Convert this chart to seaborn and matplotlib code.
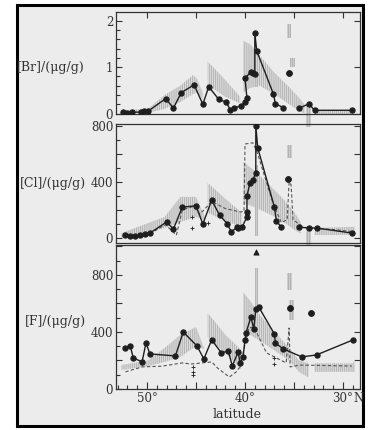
import numpy as np
import pandas as pd
import seaborn as sns
import matplotlib
matplotlib.use("Agg")
import matplotlib.pyplot as plt
from matplotlib.patches import Rectangle
from matplotlib.ticker import MultipleLocator, FixedLocator, FuncFormatter

# ---------------- data ----------------
# [Br] solid line with dots (two connected pieces)
br_lat_1 = [52.4, 52.0, 51.5, 50.6, 50.3, 49.9, 48.1, 47.3, 46.5, 45.2, 44.3, 43.7, 42.7, 41.9,
            41.5, 41.1, 40.4, 40.0, 39.8, 40.0, 39.4, 39.2, 39.0, 39.0, 38.8, 37.1, 36.9, 36.1]
br_val_1 = [0.03, 0.02, 0.03, 0.03, 0.05, 0.05, 0.32, 0.12, 0.45, 0.62, 0.20, 0.58, 0.31, 0.24,
            0.08, 0.12, 0.17, 0.24, 0.33, 0.76, 0.90, 0.88, 0.85, 1.73, 1.35, 0.42, 0.21, 0.13]
br_lat_2 = [34.5, 33.5, 32.9, 29.1]
br_val_2 = [0.11, 0.21, 0.07, 0.07]
br_iso_lat = [35.5]
br_iso_val = [0.87]

# [Br] shaded ranges
br_a_lat = [52.6, 49.9, 48.2, 46.6, 45.3, 44.9, 44.3]
br_a_lo = [0.00, 0.02, 0.10, 0.25, 0.42, 0.45, 0.30]
br_a_hi = [0.07, 0.10, 0.40, 0.60, 0.83, 0.75, 0.45]
br_b_lat = [43.8, 42.0, 40.5]
br_b_lo = [0.62, 0.36, 0.22]
br_b_hi = [1.12, 0.72, 0.36]
br_c_lat = [40.2, 39.5, 38.5, 37.0, 35.5, 34.4, 33.9]
br_c_lo = [0.45, 0.55, 0.60, 0.42, 0.20, 0.05, 0.00]
br_c_hi = [1.57, 1.50, 1.25, 0.88, 0.57, 0.32, 0.18]
br_d_lat = [32.9, 28.8]
br_d_lo = [0.00, 0.00]
br_d_hi = [0.08, 0.08]

# [Cl] solid line with dots
cl_lat_1 = [52.2, 51.7, 51.2, 50.7, 50.2, 49.7, 48.0, 47.3, 46.4, 45.0, 44.3, 43.4, 42.6, 41.8,
            41.4, 40.8, 40.7, 40.3, 39.8, 39.8, 39.8, 39.5, 39.2, 38.9, 38.9, 38.7, 37.0, 36.8, 36.3]
cl_val_1 = [21, 14, 14, 21, 28, 35, 114, 64, 220, 230, 100, 270, 164, 100,
            43, 78, 71, 78, 150, 186, 300, 393, 414, 464, 800, 643, 221, 121, 78]
cl_lat_2 = [34.5, 33.5, 32.7, 29.1]
cl_val_2 = [78, 71, 71, 35]
cl_iso_lat = [35.6]
cl_iso_val = [420]
# [Cl] dashed line
cld_lat = [52.5, 50.0, 48.1, 47.0, 46.4, 45.3, 44.6, 43.4, 42.0, 40.5, 40.1, 40.0, 39.2,
           38.7, 37.2, 36.3, 35.7, 35.5, 35.3, 35.1, 34.0, 31.0, 29.0]
cld_val = [12, 18, 95, 20, 200, 225, 170, 260, 210, 186, 190, 671, 680,
           600, 260, 110, 130, 400, 380, 130, 75, 60, 45]
cl_plus_lat = [45.4, 45.4, 43.8]
cl_plus_val = [150, 70, 107]

cl_a_lat = [52.6, 48.2, 46.6, 45.0, 44.1]
cl_a_lo = [0, 71, 114, 150, 130]
cl_a_hi = [35, 150, 293, 293, 150]
cl_b_lat = [43.8, 42.0, 40.3]
cl_b_lo = [180, 120, 78]
cl_b_hi = [393, 280, 178]
cl_c_lat = [40.2, 39.0, 37.5, 36.0, 35.0, 34.3]
cl_c_lo = [250, 220, 170, 110, 60, 30]
cl_c_hi = [543, 480, 378, 271, 186, 110]
cl_d_lat = [32.9, 28.8]
cl_d_lo = [21, 21]
cl_d_hi = [71, 80]

# [F] solid line with dots
f_lat = [52.2, 51.7, 51.4, 50.5, 50.1, 49.7, 47.1, 46.3, 44.9, 44.2, 43.4, 42.4, 41.7, 41.3,
         40.7, 40.5, 40.2, 40.0, 39.9, 39.4, 39.1, 38.9, 38.6, 37.0, 36.9, 36.1, 34.2, 32.7, 29.0]
f_val = [288, 302, 218, 190, 323, 246, 232, 400, 302, 211, 344, 253, 267, 161,
         260, 183, 225, 344, 393, 505, 421, 561, 575, 386, 323, 281, 225, 239, 344]
f_iso_lat = [35.4, 33.3]
f_iso_val = [568, 533]
f_tri_lat = [38.9]
f_tri_val = [962]
# [F] dashed line
fd_lat = [52.2, 50.5, 48.5, 46.4, 45.5, 43.4, 42.8, 41.6, 40.9, 40.5, 39.9, 39.6, 39.1,
          38.6, 37.8, 36.8, 35.8, 35.5, 35.4, 34.4, 29.1]
fd_val = [120, 155, 160, 183, 175, 190, 147, 84, 120, 155, 344, 428, 435,
          365, 253, 218, 183, 428, 155, 168, 161]
f_plus_lat = [45.3, 45.3, 45.3, 37.0, 37.0]
f_plus_val = [154, 120, 98, 218, 175]

f_a_lat = [52.6, 49.9, 48.2, 46.6, 45.0, 44.2]
f_a_lo = [133, 160, 190, 225, 300, 280]
f_a_hi = [168, 200, 288, 379, 435, 290]
f_b_lat = [43.8, 42.0, 40.4]
f_b_lo = [365, 250, 140]
f_b_hi = [533, 380, 274]
f_c_lat = [40.2, 39.5, 38.5, 37.0, 35.5, 34.5, 33.5]
f_c_lo = [414, 380, 340, 270, 200, 120, 80]
f_c_hi = [681, 620, 520, 400, 290, 200, 180]
f_d_lat = [32.9, 29.0, 28.8]
f_d_lo = [120, 120, 120]
f_d_hi = [180, 180, 210]

# isolated grey bars: (lat_left, lat_right, low, high)
br_bars = [(35.75, 35.30, 1.62, 1.94), (35.40, 34.95, 1.00, 1.19), (39.00, 38.70, 0.57, 0.87),
           (33.75, 33.30, -0.28, 0.20)]
cl_bars = [(35.75, 35.25, 571, 664), (39.00, 38.65, 14, 520), (33.75, 33.30, -60, 80)]
f_bars = [(35.75, 35.25, 695, 814), (35.50, 35.00, 484, 625), (39.00, 38.65, 575, 850)]

# ---------------- figure ----------------
sns.set_style("ticks")
plt.rcParams["font.family"] = ["DejaVu Serif", "DejaVu Sans"]
plt.rcParams["hatch.linewidth"] = 0.45
TXT = "#333333"
LINE = "#1e1e1e"
BAND_FACE = "#d9d9d9"
BAND_HATCH = "#a4a4a4"

W, H = 368, 430
fig = plt.figure(figsize=(W / 100, H / 100), dpi=100, facecolor="white")

# scanned page background with black frame (drawn beneath the axes)
fig.patches.append(Rectangle((17 / W, 1 - 426 / H), (363 - 17) / W, (426 - 5) / H,
                             transform=fig.transFigure, facecolor="#ececec",
                             edgecolor="black", linewidth=2.2, zorder=-10))

def axrect(top, bottom):
    return [116 / W, 1 - bottom / H, (360 - 116) / W, (bottom - top) / H]

ax1 = fig.add_axes(axrect(12, 114))
ax2 = fig.add_axes(axrect(124, 243))
ax3 = fig.add_axes(axrect(245, 389))
for ax in (ax1, ax2, ax3):
    ax.set_zorder(5)

XL = (53.16, 28.27)

def band(ax, lat, lo, hi):
    ax.fill_between(lat, lo, hi, facecolor=BAND_FACE, edgecolor=BAND_HATCH,
                    hatch="||||||||", linewidth=0, zorder=1)

def bars(ax, spec):
    for a, b, lo, hi in spec:
        ax.fill_between([a, b], [lo, lo], [hi, hi], facecolor="#cdcdcd", edgecolor=BAND_HATCH,
                        hatch="||||||||", linewidth=0, zorder=1, clip_on=False)

def solid(ax, lat, val):
    df = pd.DataFrame({"lat": lat, "val": val})
    sns.lineplot(data=df, x="lat", y="val", sort=False, estimator=None, ax=ax,
                 color=LINE, linewidth=1.0, marker="o", markersize=3.8,
                 markeredgecolor=LINE, markerfacecolor=LINE, zorder=4)

def dashed(ax, lat, val):
    df = pd.DataFrame({"lat": lat, "val": val})
    sns.lineplot(data=df, x="lat", y="val", sort=False, estimator=None, ax=ax,
                 color="#555555", linewidth=0.8, linestyle=(0, (3, 2)), zorder=3)

def points(ax, lat, val, marker="o", size=18):
    df = pd.DataFrame({"lat": lat, "val": val})
    sns.scatterplot(data=df, x="lat", y="val", ax=ax, color=LINE, marker=marker,
                    s=size, edgecolor=LINE, linewidth=0.6, zorder=5)

# Panel 1: Br
band(ax1, br_a_lat, br_a_lo, br_a_hi)
band(ax1, br_b_lat, br_b_lo, br_b_hi)
band(ax1, br_c_lat, br_c_lo, br_c_hi)
band(ax1, br_d_lat, br_d_lo, br_d_hi)
bars(ax1, br_bars)
solid(ax1, br_lat_1, br_val_1)
solid(ax1, br_lat_2, br_val_2)
points(ax1, br_iso_lat, br_iso_val)

# Panel 2: Cl
band(ax2, cl_a_lat, cl_a_lo, cl_a_hi)
band(ax2, cl_b_lat, cl_b_lo, cl_b_hi)
band(ax2, cl_c_lat, cl_c_lo, cl_c_hi)
band(ax2, cl_d_lat, cl_d_lo, cl_d_hi)
bars(ax2, cl_bars)
dashed(ax2, cld_lat, cld_val)
solid(ax2, cl_lat_1, cl_val_1)
solid(ax2, cl_lat_2, cl_val_2)
points(ax2, cl_iso_lat, cl_iso_val)
points(ax2, cl_plus_lat, cl_plus_val, marker="+", size=12)

# Panel 3: F
band(ax3, f_a_lat, f_a_lo, f_a_hi)
band(ax3, f_b_lat, f_b_lo, f_b_hi)
band(ax3, f_c_lat, f_c_lo, f_c_hi)
band(ax3, f_d_lat, f_d_lo, f_d_hi)
bars(ax3, f_bars)
dashed(ax3, fd_lat, fd_val)
solid(ax3, f_lat, f_val)
points(ax3, f_iso_lat, f_iso_val)
points(ax3, f_tri_lat, f_tri_val, marker="^", size=14)
points(ax3, f_plus_lat, f_plus_val, marker="+", size=12)

for ax in (ax1, ax2, ax3):
    ax.set_xlim(*XL)
    ax.set_facecolor("none")
    ax.set_xlabel("")
    ax.set_ylabel("")
    for s in ax.spines.values():
        s.set_color("#333333")
        s.set_linewidth(0.9)
    ax.tick_params(which="both", direction="in", colors="#333333", labelcolor=TXT,
                   labelsize=8.5, width=0.8, pad=2)
    ax.tick_params(which="major", length=4, right=True, left=True)
    ax.tick_params(which="minor", length=3, right=False, left=True)

# y ticks
ax1.yaxis.set_major_locator(FixedLocator([0, 1, 2]))
ax1.yaxis.set_minor_locator(MultipleLocator(0.2))
ax1.yaxis.set_major_formatter(FuncFormatter(lambda v, p: f"{v:.0f}"))
for ax in (ax2, ax3):
    ax.yaxis.set_major_locator(MultipleLocator(200))
    ax.yaxis.set_minor_locator(MultipleLocator(100))
    ax.yaxis.set_major_formatter(FuncFormatter(
        lambda v, p: f"{v:.0f}" if abs(v % 400) < 1e-6 and v >= 0 else ""))
ax1.set_ylim(-0.01, 2.19)
ax2.set_ylim(-36, 814)
ax3.set_ylim(0, 1010)

# x ticks
ax1.xaxis.set_major_locator(FixedLocator([50, 45, 40, 35, 30]))
ax1.tick_params(axis="x", which="major", top=True, bottom=False, labelbottom=False, length=4)
ax1.tick_params(axis="x", which="minor", top=False, bottom=False)
ax2.tick_params(axis="x", which="both", top=False, bottom=False, labelbottom=False)
ax3.xaxis.set_major_locator(FixedLocator([50, 45, 40, 35, 30]))
ax3.xaxis.set_minor_locator(MultipleLocator(1))
ax3.xaxis.set_major_formatter(FuncFormatter(
    lambda v, p: f"{v:.0f}°" if round(v) % 10 == 0 else ""))
ax3.tick_params(axis="x", which="major", bottom=True, top=False, length=5, labelsize=8.5)
ax3.tick_params(axis="x", which="minor", bottom=True, top=False, length=3)
ax3.text(28.95, -22, "N", fontsize=8.5, color=TXT, ha="left", va="top",
         transform=ax3.transData, clip_on=False)

# axis labels
fig.text(85 / W, 1 - 68 / H, "[Br]/(μg/g)", ha="right", va="center", fontsize=9, color=TXT)
fig.text(86 / W, 1 - 183 / H, "[Cl]/(μg/g)", ha="right", va="center", fontsize=9, color=TXT)
fig.text(86 / W, 1 - 322 / H, "[F]/(μg/g)", ha="right", va="center", fontsize=9, color=TXT)
fig.text(237 / W, 1 - 414 / H, "latitude", ha="center", va="center", fontsize=9, color=TXT)

fig.savefig("out.png", dpi=100, facecolor="white")
